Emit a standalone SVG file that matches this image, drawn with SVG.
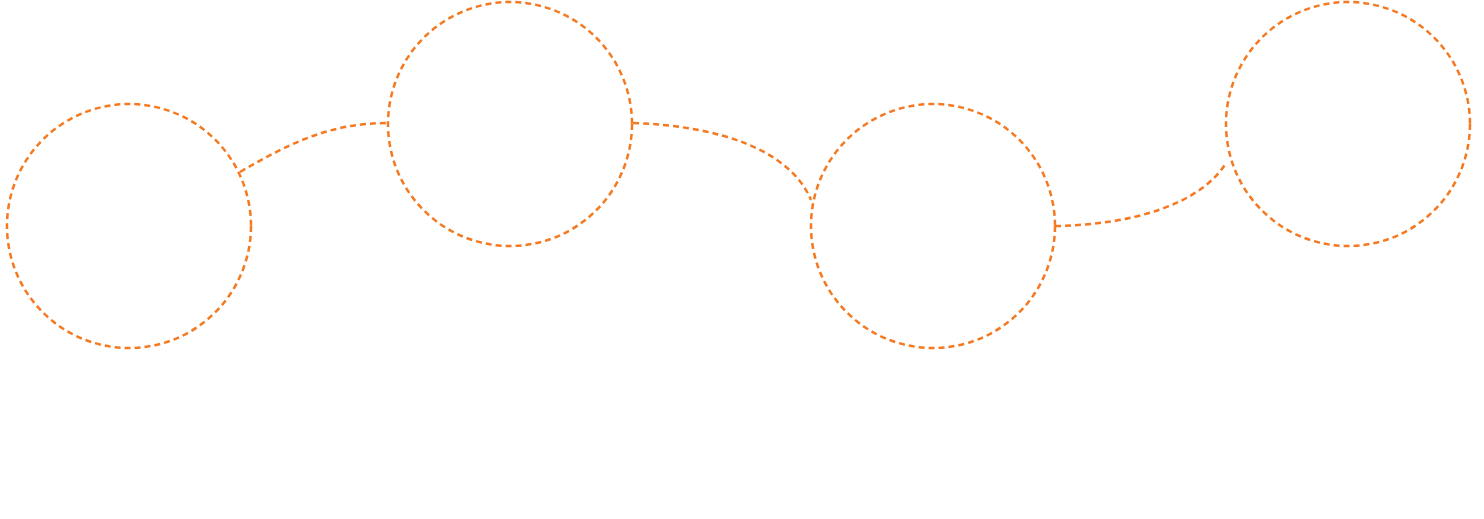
<svg xmlns="http://www.w3.org/2000/svg" width="1484" height="519" viewBox="0 0 1484 519">
<style>
.n{fill:none;stroke:#f47920;stroke-width:2.5;stroke-dasharray:6 4}
.c{fill:none;stroke:#f47920;stroke-width:2.5;stroke-dasharray:6 4}
</style>
<rect width="1484" height="519" fill="#fff"/>
<g id="connectors">
<path class="c" d="M240,172 C290,143 330,123 388,123"/>
<path class="c" d="M633,123 C720,126 790,150 811,200"/>
<path class="c" d="M1055,226 C1130,225 1200,205 1226,163"/>
</g>
<g id="node1"><circle class="n" cx="129" cy="226" r="122"/></g>
<g id="node2"><circle class="n" cx="510" cy="124" r="122"/></g>
<g id="node3"><circle class="n" cx="933" cy="226" r="122"/></g>
<g id="node4"><circle class="n" cx="1348" cy="124" r="122"/></g>
</svg>
